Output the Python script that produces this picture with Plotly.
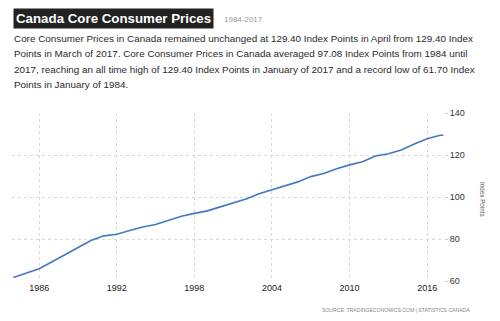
import plotly.graph_objects as go

# ---- data ----
years = [1984, 1985, 1986, 1987, 1988, 1989, 1990, 1991, 1992, 1993, 1994, 1995,
         1996, 1997, 1998, 1999, 2000, 2001, 2002, 2003, 2004, 2005, 2006, 2007,
         2008, 2009, 2010, 2011, 2012, 2013, 2014, 2015, 2016, 2017, 2017.25]
values = [61.7, 63.8, 65.8, 69.2, 72.6, 76.0, 79.3, 81.5, 82.3, 84.0, 85.7, 86.9,
          88.8, 90.8, 92.2, 93.4, 95.3, 97.0, 99.0, 101.6, 103.5, 105.3, 107.2, 109.7,
          111.2, 113.4, 115.3, 116.8, 119.5, 120.6, 122.4, 125.2, 127.7, 129.4, 129.4]
x_ticks = [1986, 1992, 1998, 2004, 2010, 2016]
x_tick_labels = ["1986", "1992", "1998", "2004", "2010", "2016"]
y_ticks = [60, 80, 100, 120, 140]

title_text = "Canada Core Consumer Prices"
period_text = "1984-2017"
paragraph = [
    "Core Consumer Prices in Canada remained unchanged at 129.40 Index Points in April from 129.40 Index",
    "Points in March of 2017. Core Consumer Prices in Canada averaged 97.08 Index Points from 1984 until",
    "2017, reaching an all time high of 129.40 Index Points in January of 2017 and a record low of 61.70 Index",
    "Points in January of 1984.",
]
source_text = "SOURCE: TRADINGECONOMICS.COM | STATISTICS CANADA"
y_title = "Index Points"

# ---- layout geometry ----
W, H = 500, 321
L, R, T, B = 12, 56, 113, 40
PW, PH = W - L - R, H - T - B


def px(x):
    return (x - L) / PW


def py(y):
    return (H - B - y) / PH


FONT = "Liberation Sans, Arial, sans-serif"

fig = go.Figure()
fig.add_trace(go.Scatter(
    x=years, y=values, mode="lines",
    line=dict(color="#4479c0", width=1.6),
    hoverinfo="skip", showlegend=False,
))

grid = dict(showgrid=True, gridcolor="#d9d9d9", griddash="dot", gridwidth=1)

fig.update_layout(
    width=W, height=H,
    margin=dict(l=L, r=R, t=T, b=B),
    paper_bgcolor="white", plot_bgcolor="white",
    font=dict(family=FONT, color="#333"),
    xaxis=dict(range=[1983.9, 2017.3], tickvals=x_ticks, ticktext=x_tick_labels,
               tickfont=dict(size=9, color="#222"), ticks="", zeroline=False,
               showline=False, **grid),
    yaxis=dict(range=[60, 140], tickvals=y_ticks, side="right",
               tickfont=dict(size=9, color="#333"), ticks="outside", ticklen=3,
               tickcolor="#cccccc", zeroline=False, showline=False, **grid),
)

ann = []
ann.append(dict(text="<b>" + title_text + "</b>", x=px(13), y=py(18), xref="paper", yref="paper",
                xanchor="left", yanchor="middle", showarrow=False, bgcolor="#222222",
                borderpad=2, font=dict(family=FONT, size=13.3, color="white")))
ann.append(dict(text=period_text, x=px(222), y=py(19), xref="paper", yref="paper",
                xanchor="left", yanchor="middle", showarrow=False,
                font=dict(family=FONT, size=8, color="#999999")))
for i, line in enumerate(paragraph):
    ann.append(dict(text=line, x=px(12), y=py(38.5 + i * 15.3), xref="paper", yref="paper",
                    xanchor="left", yanchor="middle", showarrow=False,
                    font=dict(family=FONT, size=9.9, color="#2a2a2a")))
ann.append(dict(text=source_text, x=px(472), y=py(310), xref="paper", yref="paper",
                xanchor="right", yanchor="middle", showarrow=False,
                font=dict(family=FONT, size=5.1, color="#888888")))
ann.append(dict(text=y_title, x=px(483), y=py(200), xref="paper", yref="paper",
                xanchor="center", yanchor="middle", showarrow=False, textangle=90,
                font=dict(family=FONT, size=6.3, color="#555555")))
fig.update_layout(annotations=ann)

fig.write_html("out.html")
